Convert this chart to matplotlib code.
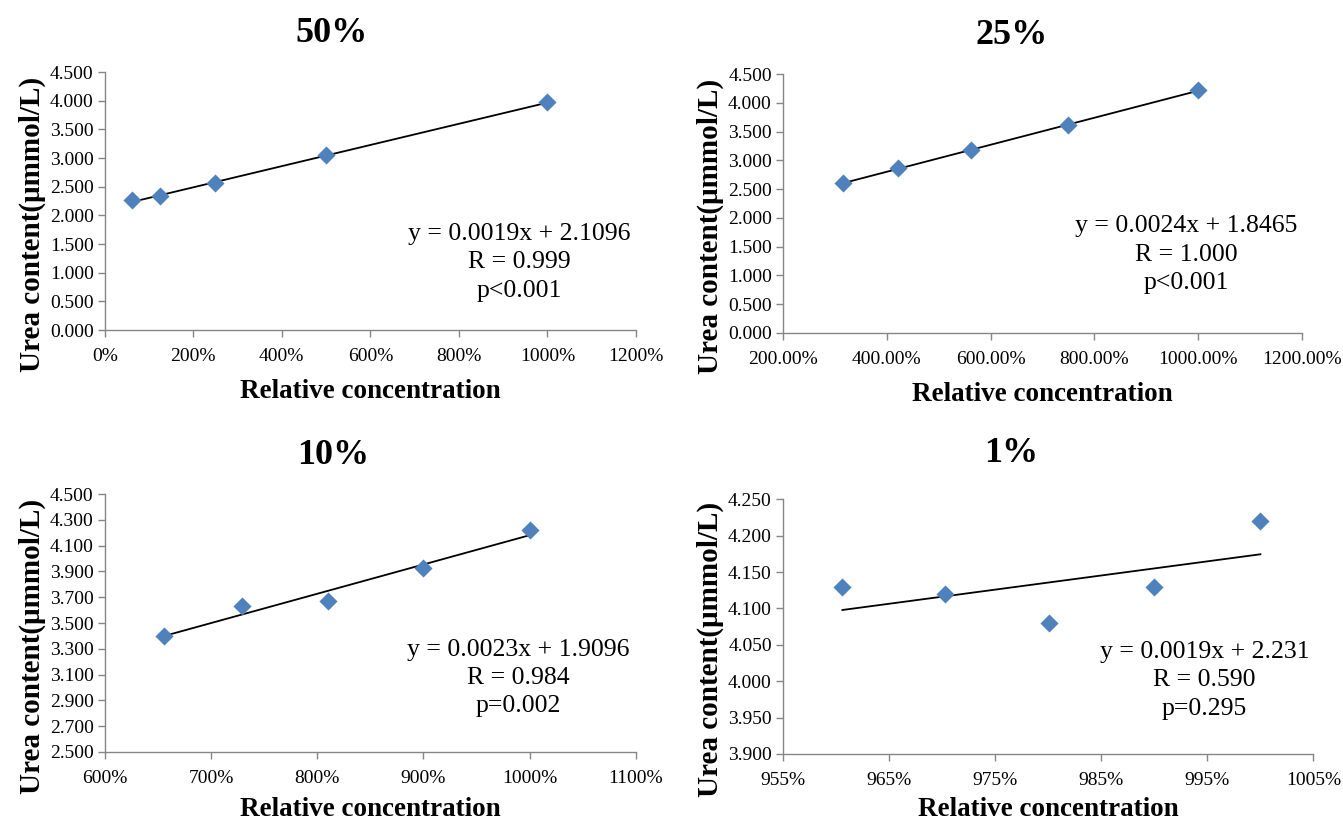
import numpy as np
import matplotlib
matplotlib.use("Agg")
import matplotlib.pyplot as plt
from matplotlib.ticker import FuncFormatter, FixedLocator

plt.rcParams['font.family'] = ['Liberation Serif', 'DejaVu Serif']

titles = ["50%", "25%", "10%", "1%"]

x50 = [62.5, 125, 250, 500, 1000]
y50 = [2.27, 2.33, 2.56, 3.05, 3.97]
x25 = [316.4, 421.9, 562.5, 750, 1000]
y25 = [2.60, 2.87, 3.18, 3.61, 4.22]
x10 = [656.1, 729, 810, 900, 1000]
y10 = [3.40, 3.63, 3.67, 3.93, 4.22]
x1 = [960.6, 970.3, 980.1, 990, 1000]
y1 = [4.13, 4.12, 4.08, 4.13, 4.22]

eq_texts = [
    "y = 0.0019x + 2.1096\nR = 0.999\np<0.001",
    "y = 0.0024x + 1.8465\nR = 1.000\np<0.001",
    "y = 0.0023x + 1.9096\nR = 0.984\np=0.002",
    "y = 0.0019x + 2.231\nR = 0.590\np=0.295",
]

xlims = [(0, 1200), (200, 1200), (600, 1100), (955, 1005)]
xsteps = [200, 200, 100, 10]
xfmts = ["{:.0f}%", "{:.2f}%", "{:.0f}%", "{:.0f}%"]
ylims = [(0, 4.5), (0, 4.5), (2.5, 4.5), (3.9, 4.25)]
ysteps = [0.5, 0.5, 0.2, 0.05]

positions = [
    [0.078, 0.5995, 0.3955, 0.313],
    [0.583, 0.596, 0.3865, 0.314],
    [0.078, 0.0874, 0.3955, 0.313],
    [0.583, 0.085, 0.395, 0.309],
]
text_pos = [(0.78, 0.415), (0.777, 0.455), (0.778, 0.44), (0.795, 0.445)]
title_x = [0.427, 0.441, 0.43, 0.431]
title_pad = [22, 22, 22, 27]
xlabel_pad = [10, 10, 7, 6]

data = [(x50, y50), (x25, y25), (x10, y10), (x1, y1)]

fig = plt.figure(figsize=(13.43, 8.24), dpi=100)

for i in range(4):
    ax = fig.add_axes(positions[i])
    xs, ys = np.array(data[i][0]), np.array(data[i][1])
    coef = np.polyfit(xs, ys, 1)
    xl = np.array([xs.min(), xs.max()])
    ax.plot(xl, np.polyval(coef, xl), color='black', lw=1.3, zorder=2)
    ax.scatter(xs, ys, marker='D', s=85, color='#4F81BD', zorder=3, linewidths=0)
    x0, x1_ = xlims[i]
    y0, y1_ = ylims[i]
    ax.set_xlim(x0, x1_)
    ax.set_ylim(y0, y1_)
    ax.xaxis.set_major_locator(FixedLocator(np.arange(x0, x1_ + xsteps[i] / 2, xsteps[i])))
    ax.yaxis.set_major_locator(FixedLocator(np.arange(y0, y1_ + ysteps[i] / 2, ysteps[i])))
    fmt = xfmts[i]
    ax.xaxis.set_major_formatter(FuncFormatter(lambda v, p, f=fmt: f.format(v)))
    ax.yaxis.set_major_formatter(FuncFormatter(lambda v, p: "{:.3f}".format(v)))
    for s in ['top', 'right']:
        ax.spines[s].set_visible(False)
    for s in ['left', 'bottom']:
        ax.spines[s].set_color('#868686')
        ax.spines[s].set_linewidth(1.0)
    ax.tick_params(axis='both', colors='#868686', labelcolor='black', labelsize=14,
                   length=5, width=1.0, direction='out')
    ax.tick_params(axis='x', pad=8)
    ax.tick_params(axis='y', pad=3)
    ax.set_xlabel("Relative concentration", fontsize=19.5, fontweight='bold',
                  labelpad=xlabel_pad[i])
    ax.set_ylabel("Urea content(μmmol/L)", fontsize=21, fontweight='bold', labelpad=3, y=0.41)
    ax.set_title(titles[i], fontsize=26, fontweight='bold', pad=title_pad[i], x=title_x[i])
    ax.text(text_pos[i][0], text_pos[i][1], eq_texts[i], transform=ax.transAxes,
            ha='center', va='top', fontsize=18.5, linespacing=1.38)

fig.savefig("out.png", dpi=100)
